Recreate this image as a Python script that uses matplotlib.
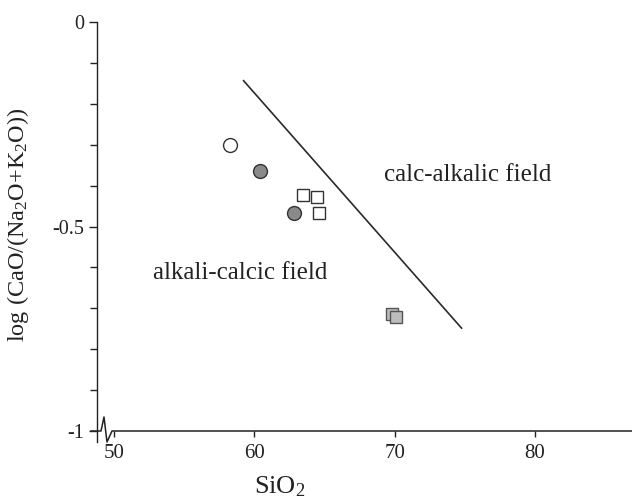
import matplotlib
matplotlib.use('Agg')
import matplotlib.pyplot as plt
from matplotlib.ticker import MultipleLocator
import matplotlib.transforms as mtransforms

plt.rcParams['font.family'] = ['Liberation Serif', 'DejaVu Serif']
plt.rcParams['mathtext.fontset'] = 'custom'
plt.rcParams['mathtext.rm'] = 'Liberation Serif'
plt.rcParams['mathtext.it'] = 'Liberation Serif:italic'

# ---- data ----
open_circle_x = [58.3]
open_circle_y = [-0.30]
gray_circle_x = [60.4, 62.85]
gray_circle_y = [-0.365, -0.468]
open_square_x = [63.5, 64.5, 64.6]
open_square_y = [-0.424, -0.429, -0.466]
gray_square_x = [69.8, 70.1]
gray_square_y = [-0.713, -0.721]
boundary_x = [59.2, 74.8]
boundary_y = [-0.142, -0.75]
x_ticks = [50, 60, 70, 80]
x_tick_labels = ['50', '60', '70', '80']
y_ticks = [-1, -0.5, 0]
y_tick_labels = ['-1', '-0.5', '0']
field_labels = ['calc-alkalic field', 'alkali-calcic field']
field_label_x = [75.2, 59.0]
field_label_y = [-0.375, -0.613]

fig = plt.figure(figsize=(6.32, 5.0), dpi=100)
ax = fig.add_axes([97/632, 1 - 431/500, 1 - 97/632, (431 - 22)/500])
ax.set_xlim(48.8, 86.9)
ax.set_ylim(-1.0, 0.0)

ax.plot(boundary_x, boundary_y, color='#2a2a2a', lw=1.2, solid_capstyle='butt')

ax.plot(open_circle_x, open_circle_y, 'o', ms=10, mfc='white', mec='#333333', mew=1.0)
ax.plot(gray_circle_x, gray_circle_y, 'o', ms=10, mfc='#8a8a8a', mec='#333333', mew=1.0)
ax.plot(open_square_x, open_square_y, 's', ms=8.5, mfc='white', mec='#333333', mew=1.0)
ax.plot(gray_square_x, gray_square_y, 's', ms=8.5, mfc='#bdbdbd', mec='#555555', mew=1.0)

for t, x, y in zip(field_labels, field_label_x, field_label_y):
    ax.text(x, y, t, ha='center', va='center', fontsize=18, color='#222222')

for s in ['top', 'right', 'bottom']:
    ax.spines[s].set_visible(False)
ax.spines['left'].set_color('#222222')
ax.spines['left'].set_linewidth(1.0)

ax.set_xticks(x_ticks)
ax.set_xticklabels(x_tick_labels)
ax.set_yticks(y_ticks)
ax.set_yticklabels(y_tick_labels)
ax.yaxis.set_minor_locator(MultipleLocator(0.1))
ax.tick_params(axis='y', which='major', direction='out', length=6, width=1.0,
               labelsize=14.5, colors='#222222', pad=3)
ax.tick_params(axis='y', which='minor', direction='out', length=5, width=1.0, colors='#222222')
ax.tick_params(axis='x', which='major', direction='out', length=4, width=1.0,
               labelsize=15, colors='#222222', pad=5)

# bottom axis line with break symbol
trans = mtransforms.blended_transform_factory(ax.transAxes, ax.transAxes)
px = 1.0 / (632 - 97)
py = 1.0 / (431 - 22)
ax.plot([-6 * px, 4 * px, 7 * px, 10 * px, 15 * px, 1.0],
        [0, 0, 14 * py, -11 * py, 0, 0],
        color='#222222', lw=1.1, transform=trans, clip_on=False)
ax.plot([0, 0], [0, -11 * py], color='#222222', lw=1.0, transform=trans, clip_on=False)

fig.text(280/632, 1 - 487/500, r'SiO$_2$', ha='center', va='center', fontsize=19, color='#222222')
fig.text(18/632, 1 - 225/500, r'log (CaO/(Na$_2$O+K$_2$O))', ha='center', va='center',
         rotation=90, fontsize=17.5, color='#222222')

fig.savefig('out.png', dpi=100, facecolor='white')
